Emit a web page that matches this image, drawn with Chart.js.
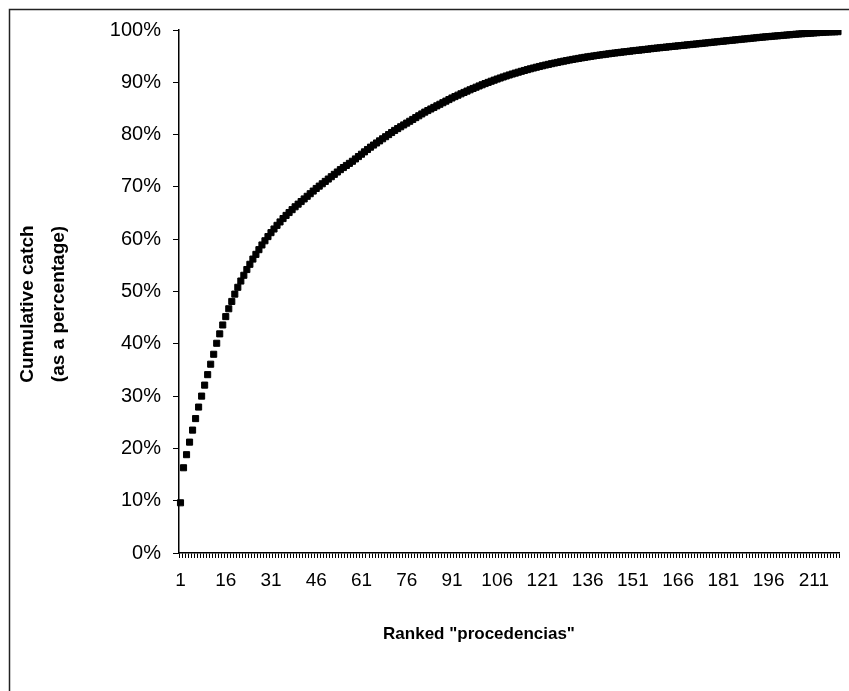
<!DOCTYPE html>
<html>
<head>
<meta charset="utf-8">
<script src="https://cdn.jsdelivr.net/npm/chart.js@4/dist/chart.umd.min.js"></script>
<style>
  html, body { margin: 0; padding: 0; background: #fff; }
  #wrap { position: relative; width: 849px; height: 691px; }
</style>
</head>
<body>
<div id="wrap"><canvas id="c" width="849" height="691"></canvas></div>
<script>
// Cumulative catch (%), one value per ranked "procedencia"
const cumulativePct = [
  9.6, 16.3, 18.8, 21.2, 23.5, 25.7, 27.9, 30.0, 32.1, 34.1,
  36.1, 38.0, 40.1, 41.9, 43.6, 45.2, 46.7, 48.1, 49.5, 50.8,
  52.0, 53.1, 54.2, 55.2, 56.2, 57.1, 58.0, 58.9, 59.7, 60.5,
  61.25, 61.95, 62.65, 63.3, 63.95, 64.55, 65.1, 65.65, 66.2, 66.7,
  67.2, 67.7, 68.2, 68.7, 69.2, 69.7, 70.15, 70.6, 71.05, 71.5,
  71.95, 72.4, 72.85, 73.3, 73.7, 74.1, 74.5, 74.9, 75.35, 75.8,
  76.25, 76.7, 77.15, 77.6, 78.0, 78.4, 78.8, 79.2, 79.6, 80.0,
  80.4, 80.8, 81.15, 81.5, 81.85, 82.2, 82.55, 82.9, 83.25, 83.6,
  83.95, 84.3, 84.6, 84.9, 85.2, 85.5, 85.8, 86.1, 86.4, 86.7,
  87.0, 87.27, 87.54, 87.8, 88.06, 88.32, 88.57, 88.82, 89.06, 89.3,
  89.53, 89.76, 89.98, 90.2, 90.41, 90.62, 90.82, 91.02, 91.21, 91.4,
  91.58, 91.76, 91.93, 92.1, 92.26, 92.42, 92.58, 92.73, 92.88, 93.02,
  93.16, 93.3, 93.43, 93.56, 93.68, 93.8, 93.92, 94.04, 94.15, 94.26,
  94.37, 94.47, 94.57, 94.67, 94.77, 94.86, 94.95, 95.04, 95.13, 95.21,
  95.29, 95.37, 95.45, 95.53, 95.6, 95.67, 95.74, 95.81, 95.88, 95.95,
  96.02, 96.09, 96.15, 96.21, 96.28, 96.35, 96.42, 96.49, 96.55, 96.61,
  96.67, 96.73, 96.79, 96.85, 96.91, 96.97, 97.03, 97.09, 97.15, 97.21,
  97.27, 97.33, 97.39, 97.45, 97.51, 97.57, 97.63, 97.69, 97.75, 97.81,
  97.87, 97.93, 97.99, 98.05, 98.11, 98.17, 98.23, 98.29, 98.34, 98.4,
  98.46, 98.52, 98.58, 98.64, 98.69, 98.74, 98.79, 98.84, 98.89, 98.94,
  98.99, 99.04, 99.09, 99.14, 99.19, 99.24, 99.28, 99.32, 99.36, 99.4,
  99.44, 99.48, 99.52, 99.56, 99.6, 99.62, 99.64, 99.66, 99.68
];

// Category labels: ranks 1..N
const ranks = cumulativePct.map((_, i) => String(i + 1));

// Tick labels
const yTickValues = [0, 10, 20, 30, 40, 50, 60, 70, 80, 90, 100];
const xLabelEvery = 15;

const yTitleLines = ["Cumulative catch", "(as a percentage)"];
const xTitle = 'Ranked "procedencias"';

const FONT = "'Liberation Sans', Arial, sans-serif";

const decorPlugin = {
  id: 'decor',
  beforeDraw(chart) {
    const ctx = chart.ctx;
    ctx.save();
    ctx.fillStyle = '#fff';
    ctx.fillRect(0, 0, chart.width, chart.height);
    ctx.strokeStyle = '#222';
    ctx.lineWidth = 1.5;
    ctx.strokeRect(9.5, 9.5, 1000, 1000);
    ctx.restore();
  },
  afterDraw(chart) {
    const ctx = chart.ctx;
    ctx.save();
    ctx.fillStyle = '#000';
    ctx.textAlign = 'center';
    ctx.textBaseline = 'middle';
    ctx.font = "bold 17px " + FONT;
    ctx.fillText(xTitle, 479, 634);
    ctx.font = "bold 19px " + FONT;
    const cy = 304;
    [28, 59].forEach((cx, i) => {
      ctx.save();
      ctx.translate(cx, cy);
      ctx.rotate(-Math.PI / 2);
      ctx.fillText(yTitleLines[i], 0, 0);
      ctx.restore();
    });
    ctx.restore();
  }
};

new Chart(document.getElementById('c'), {
  type: 'line',
  data: {
    labels: ranks,
    datasets: [{
      data: cumulativePct,
      showLine: false,
      borderColor: '#000',
      backgroundColor: '#000',
      borderWidth: 0,
      pointStyle: 'rect',
      pointRadius: 4.3,
      pointBorderWidth: 1,
      pointBackgroundColor: '#000',
      pointBorderColor: '#000',
      fill: false
    }]
  },
  options: {
    responsive: false,
    animation: false,
    events: [],
    layout: { padding: { top: 30, right: 5, left: 0, bottom: 0 } },
    plugins: { legend: { display: false }, tooltip: { enabled: false }, title: { display: false } },
    scales: {
      x: {
        type: 'category',
        offset: true,
        grid: { display: true, drawOnChartArea: false, drawTicks: true, tickLength: 5, color: '#000', offset: true, lineWidth: 1 },
        border: { display: true, color: '#000', width: 1.5 },
        ticks: {
          autoSkip: false, maxRotation: 0, minRotation: 0, padding: 11,
          color: '#000', font: { family: FONT, size: 19 },
          callback: function(v, i) { return i % xLabelEvery === 0 ? ranks[i] : ''; }
        },
        afterFit(scale) { scale.height = 138; }
      },
      y: {
        min: 0, max: 100,
        afterBuildTicks(scale) { scale.ticks = yTickValues.map(v => ({ value: v })); },
        grid: { display: true, drawOnChartArea: false, drawTicks: true, tickLength: 6, color: '#000', lineWidth: 1 },
        border: { display: true, color: '#000', width: 1.5 },
        ticks: {
          padding: 12, color: '#000', font: { family: FONT, size: 20 },
          callback: v => v + '%'
        },
        afterFit(scale) { scale.width = 179; }
      }
    }
  },
  plugins: [decorPlugin]
});
</script>
</body>
</html>
